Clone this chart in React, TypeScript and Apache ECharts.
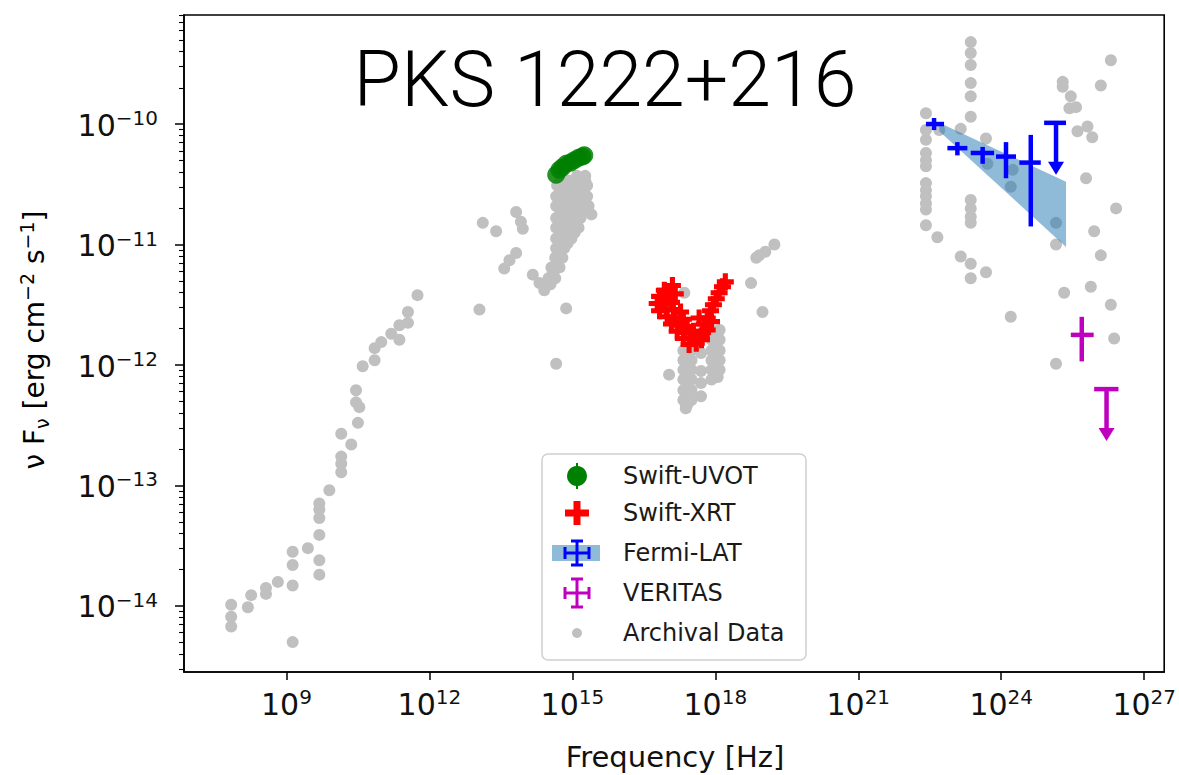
import React, { useEffect, useRef } from 'react';
import * as echarts from 'echarts';

// All values are log10(frequency / Hz) and log10(νFν / erg cm^-2 s^-1)
const archival: [number, number][] = [
  // radio
  [11.75, -11.42], [11.55, -11.56], [11.55, -11.65], [11.37, -11.67], [11.2, -11.74], [11.37, -11.79],
  [10.99, -11.81], [10.85, -11.86], [10.85, -11.96], [10.6, -12.01], [10.46, -12.21], [10.46, -12.31],
  [10.53, -12.35], [10.5, -12.48], [10.15, -12.57], [10.36, -12.66], [10.15, -12.76], [10.15, -12.82],
  [10.15, -12.89], [9.9, -13.04], [9.69, -13.15], [9.69, -13.2], [9.69, -13.27], [9.69, -13.41],
  [9.45, -13.52], [9.13, -13.55], [9.69, -13.62], [9.13, -13.66], [9.69, -13.74], [8.82, -13.8],
  [9.13, -13.83], [8.57, -13.85], [8.57, -13.9], [8.26, -13.91], [8.19, -14.01], [7.84, -13.99],
  [7.84, -14.09], [7.84, -14.17], [9.13, -14.3],
  // infrared
  [13.05, -11.54], [13.12, -10.82], [13.4, -10.89], [13.82, -10.73], [13.92, -10.81], [13.96, -10.87],
  [13.82, -11.07], [13.68, -11.13], [13.57, -11.2], [14.17, -11.25], [14.31, -11.32], [14.41, -11.38],
  [14.55, -11.27], [14.87, -11.53], [14.66, -11.99],
  // optical / UV
  [15.1, -10.43], [15.27, -10.43],
  [14.75, -10.47], [14.93, -10.47], [15.1, -10.47], [15.27, -10.47],
  [14.68, -10.51], [14.85, -10.51], [15.02, -10.51], [15.19, -10.51], [15.31, -10.51],
  [14.75, -10.55], [14.93, -10.55], [15.1, -10.55], [15.25, -10.55],
  [14.66, -10.6], [14.83, -10.6], [15.0, -10.6], [15.17, -10.6], [15.31, -10.6],
  [14.75, -10.64], [14.93, -10.64], [15.1, -10.64], [15.25, -10.64],
  [14.66, -10.68], [14.83, -10.68], [15.0, -10.68], [15.17, -10.68], [15.34, -10.68],
  [14.75, -10.72], [14.93, -10.72], [15.1, -10.72], [15.25, -10.72],
  [15.4, -10.75],
  [14.66, -10.78], [14.83, -10.78], [15.0, -10.78], [15.17, -10.78],
  [14.75, -10.82], [14.93, -10.82], [15.08, -10.82],
  [14.66, -10.86], [14.83, -10.86], [15.0, -10.86], [15.13, -10.86],
  [14.75, -10.9], [14.92, -10.9], [15.05, -10.9],
  [14.66, -10.95], [14.83, -10.95], [14.98, -10.95],
  [14.75, -10.99], [14.9, -10.99],
  [14.66, -11.03], [14.83, -11.03],
  [14.73, -11.07],
  [14.64, -11.11], [14.79, -11.11],
  [14.68, -11.15],
  [14.56, -11.19], [14.73, -11.19],
  [14.6, -11.23],
  [14.5, -11.28], [14.64, -11.28],
  [14.54, -11.33],
  // X-ray
  [17.35, -11.4],
  [17.33, -11.88], [17.5, -11.88], [17.33, -11.96], [17.5, -11.96], [17.33, -12.04], [17.5, -12.04],
  [17.33, -12.12], [17.5, -12.12], [17.33, -12.21], [17.5, -12.21], [17.33, -12.29], [17.5, -12.29],
  [17.38, -12.36],
  [17.41, -11.84], [17.41, -11.92], [17.41, -12.0], [17.41, -12.08], [17.41, -12.16], [17.41, -12.25],
  [17.41, -12.33],
  [17.92, -11.71], [18.09, -11.71], [17.92, -11.79], [18.09, -11.79], [17.92, -11.88], [18.09, -11.88],
  [17.92, -11.96], [18.09, -11.96], [17.92, -12.04], [18.09, -12.04], [17.92, -12.12],
  [18.0, -11.75], [18.0, -11.83], [18.0, -11.92], [18.0, -12.0], [18.0, -12.08],
  [17.7, -11.9], [17.7, -12.05], [17.7, -12.15],
  [17.03, -12.08], [17.38, -12.33], [17.7, -12.26], [18.05, -12.1],
  // hard X-ray
  [19.24, -11.0], [19.05, -11.06], [18.92, -11.09], [18.86, -11.11], [18.75, -11.32], [18.99, -11.56],
  // gamma-ray
  [23.36, -9.32], [23.36, -9.41], [23.36, -9.51], [23.36, -9.66], [23.36, -9.77], [23.36, -9.94],
  [23.36, -10.63], [23.36, -10.7], [23.36, -10.77], [23.36, -10.82],
  [23.15, -11.1], [23.36, -11.16], [23.36, -11.28], [23.68, -11.23], [24.2, -11.6],
  [22.42, -9.91], [22.42, -10.05], [22.42, -10.13], [22.42, -10.24], [22.42, -10.3], [22.42, -10.35],
  [22.42, -10.49], [22.42, -10.55], [22.42, -10.6], [22.42, -10.66], [22.42, -10.71], [22.42, -10.84],
  [22.66, -10.94], [23.15, -10.04], [23.68, -10.12], [23.71, -10.33], [24.24, -10.38], [24.2, -10.52],
  [22.7, -10.05],
  [25.29, -9.65], [25.29, -9.69], [25.46, -9.77], [25.57, -9.86], [25.43, -9.87], [25.81, -10.02],
  [25.6, -10.06], [25.91, -10.11], [26.3, -9.47], [26.09, -9.68], [25.78, -10.45], [26.41, -10.7],
  [25.15, -10.82], [25.15, -11.0], [25.95, -10.89], [26.09, -11.09], [25.32, -11.4], [25.88, -11.35],
  [26.3, -11.5], [26.37, -11.78], [25.15, -11.99],
];

const swiftUvot: [number, number][] = [
  [14.66, -10.42], [14.73, -10.38], [14.79, -10.36], [14.87, -10.33], [14.96, -10.32],
  [15.04, -10.3], [15.13, -10.28], [15.21, -10.27], [15.25, -10.26],
];

const swiftXrt: [number, number][] = [
  [17.1, -11.34], [16.93, -11.38], [16.83, -11.43], [16.99, -11.43], [17.16, -11.41], [16.78, -11.49],
  [16.93, -11.49], [17.08, -11.48], [16.83, -11.55], [16.97, -11.54], [17.12, -11.54], [17.27, -11.56],
  [16.99, -11.6], [17.16, -11.61], [17.33, -11.62], [17.08, -11.66], [17.25, -11.67], [17.41, -11.68],
  [17.2, -11.72], [17.37, -11.73], [17.54, -11.72], [17.33, -11.78], [17.48, -11.78], [17.62, -11.77],
  [17.45, -11.83], [17.6, -11.82], [17.73, -11.73], [17.77, -11.66], [17.66, -11.61], [17.83, -11.61],
  [17.9, -11.55], [17.96, -11.5], [18.02, -11.45], [18.08, -11.4], [18.15, -11.35], [18.21, -11.31],
  [17.71, -11.79], [17.83, -11.71], [17.92, -11.64],
];

// [logNu, logFlux, logNuLow, logNuHigh, logFluxLow, logFluxHigh, upperLimit]
const fermiLat: number[][] = [
  [22.59, -10.0, 22.42, 22.8, -10.05, -9.95, 0],
  [23.08, -10.2, 22.87, 23.29, -10.26, -10.15, 0],
  [23.61, -10.24, 23.36, 23.85, -10.33, -10.19, 0],
  [24.1, -10.27, 23.89, 24.31, -10.45, -10.15, 0],
  [24.62, -10.32, 24.38, 24.83, -10.85, -10.09, 0],
  [25.15, -9.99, 24.9, 25.36, -9.99, -9.99, 1],
];

const veritas: number[][] = [
  [25.69, -11.75, 25.46, 25.94, -11.97, -11.6, 0],
  [26.21, -12.2, 25.95, 26.46, -12.2, -12.2, 1],
];

// Fermi-LAT power-law confidence band
const fermiBandNu = [22.7, 25.36];
const fermiBandHigh = [-9.99, -10.48];
const fermiBandLow = [-10.06, -11.02];

const xTicks = [9, 12, 15, 18, 21, 24, 27];
const yTicks = [-14, -13, -12, -11, -10];

const X_MIN = 6.85;
const X_MAX = 27.42;
const Y_MIN = -14.548;
const Y_MAX = -9.095;
const UL_ARROW_DEX = 0.43;

const FONT = '"DejaVu Sans", Verdana, sans-serif';
const BLUE = '#0000ff';
const MAGENTA = '#bf00bf';
const GREEN = '#008000';
const RED = '#ff0000';
const SILVER = '#c0c0c0';
const BAND = 'rgba(31,119,180,0.5)';

const yMinorTicks: number[] = [];
for (let d = -15; d <= -10; d++) {
  for (let k = 2; k <= 9; k++) {
    const v = d + Math.log10(k);
    if (v > Y_MIN && v < Y_MAX) yMinorTicks.push(v);
  }
}

const expLabel = (v: number) => {
  const n = Math.round(v);
  return `{b|10}{s|${n < 0 ? '\u2212' : ''}${Math.abs(n)}}`;
};

const tickRich = {
  b: { fontSize: 30, fontFamily: FONT, color: '#111', lineHeight: 32, verticalAlign: 'bottom' },
  s: { fontSize: 20, fontFamily: FONT, color: '#111', lineHeight: 20, verticalAlign: 'top' },
};

const PLUS_SYMBOL = 'path://M7,0h6v7h7v6h-7v7h-6v-7h-7v-6h7z';

function errorBars(color: string) {
  return (params: any, api: any) => {
    const x = api.value(0);
    const y = api.value(1);
    const c = api.coord([x, y]);
    const l = api.coord([api.value(2), y]);
    const r = api.coord([api.value(3), y]);
    const style = { stroke: color, lineWidth: 4.5, fill: 'none' };
    const children: any[] = [
      { type: 'line', shape: { x1: l[0], y1: l[1], x2: r[0], y2: r[1] }, style },
    ];
    if (api.value(6) === 1) {
      const tip = api.coord([x, y - UL_ARROW_DEX]);
      children.push({ type: 'line', shape: { x1: c[0], y1: c[1], x2: tip[0], y2: tip[1] - 10 }, style });
      children.push({
        type: 'polygon',
        shape: { points: [[tip[0] - 8, tip[1] - 13], [tip[0] + 8, tip[1] - 13], [tip[0], tip[1]]] },
        style: { fill: color },
      });
    } else {
      const lo = api.coord([x, api.value(4)]);
      const hi = api.coord([x, api.value(5)]);
      children.push({ type: 'line', shape: { x1: lo[0], y1: lo[1], x2: hi[0], y2: hi[1] }, style });
    }
    return { type: 'group', children };
  };
}

function cappedCross(cx: number, cy: number, hw: number, hh: number, color: string) {
  const st = { stroke: color, lineWidth: 3 };
  const cap = 6;
  return [
    { type: 'line', shape: { x1: cx - hw, y1: cy, x2: cx + hw, y2: cy }, style: st },
    { type: 'line', shape: { x1: cx, y1: cy - hh, x2: cx, y2: cy + hh }, style: st },
    { type: 'line', shape: { x1: cx - hw, y1: cy - cap, x2: cx - hw, y2: cy + cap }, style: st },
    { type: 'line', shape: { x1: cx + hw, y1: cy - cap, x2: cx + hw, y2: cy + cap }, style: st },
    { type: 'line', shape: { x1: cx - cap, y1: cy - hh, x2: cx + cap, y2: cy - hh }, style: st },
    { type: 'line', shape: { x1: cx - cap, y1: cy + hh, x2: cx + cap, y2: cy + hh }, style: st },
  ];
}

function plusPoints(cx: number, cy: number, a: number, t: number) {
  return [
    [cx - t, cy - a], [cx + t, cy - a], [cx + t, cy - t], [cx + a, cy - t], [cx + a, cy + t],
    [cx + t, cy + t], [cx + t, cy + a], [cx - t, cy + a], [cx - t, cy + t], [cx - a, cy + t],
    [cx - a, cy - t], [cx - t, cy - t],
  ];
}

const legendEntries = ['Swift-UVOT', 'Swift-XRT', 'Fermi-LAT', 'VERITAS', 'Archival Data'];
const legendRows = [476, 513, 553, 593, 633];

function buildLegend() {
  const kx = 577;
  const children: any[] = [
    {
      type: 'rect',
      shape: { x: 542, y: 454, width: 264, height: 206, r: 6 },
      style: { fill: 'rgba(255,255,255,0.85)', stroke: '#d0d0d0', lineWidth: 1.5 },
    },
    { type: 'line', shape: { x1: kx, y1: legendRows[0] - 13, x2: kx, y2: legendRows[0] + 13 }, style: { stroke: GREEN, lineWidth: 2 } },
    { type: 'circle', shape: { cx: kx, cy: legendRows[0], r: 10 }, style: { fill: GREEN } },
    { type: 'polygon', shape: { points: plusPoints(kx, legendRows[1], 12, 3.5) }, style: { fill: RED } },
    { type: 'rect', shape: { x: 552, y: legendRows[2] - 8, width: 48, height: 16 }, style: { fill: BAND } },
    ...cappedCross(kx, legendRows[2], 12, 12, BLUE),
    ...cappedCross(kx, legendRows[3], 12, 14, MAGENTA),
    { type: 'circle', shape: { cx: kx, cy: legendRows[4], r: 5 }, style: { fill: SILVER } },
  ];
  legendEntries.forEach((name, i) => {
    children.push({
      type: 'text',
      x: 623,
      y: legendRows[i],
      style: {
        text: name, fontSize: 24, fontFamily: FONT, fill: '#1a1a1a',
        align: 'left', verticalAlign: 'middle', textAlign: 'left', textVerticalAlign: 'middle',
      },
    });
  });
  return { type: 'group', z: 100, children };
}

export default function App() {
  const ref = useRef<HTMLDivElement>(null);

  useEffect(() => {
    if (!ref.current) return;
    const chart = echarts.init(ref.current, undefined, { renderer: 'svg' });
    chart.setOption({
      animation: false,
      backgroundColor: '#ffffff',
      grid: { left: 184, right: 14, top: 15, bottom: 103, show: true, borderColor: '#000', borderWidth: 1.6 },
      xAxis: {
        type: 'value', min: X_MIN, max: X_MAX,
        splitLine: { show: false },
        axisLine: { lineStyle: { color: '#000', width: 1.6 } },
        axisTick: { customValues: xTicks, length: 8, lineStyle: { color: '#000', width: 1.5 } },
        axisLabel: { customValues: xTicks, margin: 15, formatter: expLabel, rich: tickRich },
      },
      yAxis: [
        {
          type: 'value', min: Y_MIN, max: Y_MAX,
          splitLine: { show: false },
          axisLine: { lineStyle: { color: '#000', width: 1.6 } },
          axisTick: { customValues: yTicks, length: 9, lineStyle: { color: '#000', width: 1.5 } },
          axisLabel: { customValues: yTicks, margin: 26, formatter: expLabel, rich: tickRich },
        },
        {
          type: 'value', min: Y_MIN, max: Y_MAX, position: 'left',
          splitLine: { show: false },
          axisLine: { show: false },
          axisTick: { customValues: yMinorTicks, length: 5, lineStyle: { color: '#000', width: 1.1 } },
          axisLabel: { show: false },
        },
      ],
      series: [
        {
          name: 'Archival Data', type: 'scatter', data: archival, symbolSize: 12,
          itemStyle: { color: SILVER, opacity: 1 }, z: 1,
        },
        {
          name: 'Fermi-LAT band', type: 'custom', z: 2,
          data: [[fermiBandNu[0], fermiBandHigh[0]]],
          encode: { x: 0, y: 1 },
          renderItem: (params: any, api: any) => {
            const upper = fermiBandNu.map((nu, i) => api.coord([nu, fermiBandHigh[i]]));
            const lower = fermiBandNu.map((nu, i) => api.coord([nu, fermiBandLow[i]])).reverse();
            return { type: 'polygon', shape: { points: [...upper, ...lower] }, style: { fill: BAND } };
          },
        },
        {
          name: 'Swift-UVOT', type: 'scatter', data: swiftUvot, symbolSize: 18,
          itemStyle: { color: GREEN, opacity: 0.85 }, z: 3,
        },
        {
          name: 'Swift-XRT', type: 'scatter', data: swiftXrt, symbol: PLUS_SYMBOL, symbolSize: 17,
          itemStyle: { color: RED, opacity: 1 }, z: 4,
        },
        {
          name: 'Fermi-LAT', type: 'custom', data: fermiLat, encode: { x: 0, y: 1 },
          renderItem: errorBars(BLUE), z: 5,
        },
        {
          name: 'VERITAS', type: 'custom', data: veritas, encode: { x: 0, y: 1 },
          renderItem: errorBars(MAGENTA), z: 5,
        },
      ],
      graphic: [
        {
          type: 'text', x: 605, y: 80, z: 50,
          style: {
            text: 'PKS 1222+216', fontSize: 77, fontWeight: 300, fontFamily: 'Roboto, "Open Sans", sans-serif',
            fill: '#000', align: 'center', verticalAlign: 'middle', textAlign: 'center', textVerticalAlign: 'middle',
          },
        },
        {
          type: 'text', x: 675, y: 757, z: 50,
          style: {
            text: 'Frequency [Hz]', fontSize: 29, fontFamily: FONT, fill: '#111',
            align: 'center', verticalAlign: 'middle', textAlign: 'center', textVerticalAlign: 'middle',
          },
        },
        {
          type: 'text', x: 34, y: 340, rotation: Math.PI / 2, z: 50,
          style: {
            text: '{n|\u03bd F}{sb|\u03bd}{n| [erg cm}{sp|\u22122}{n| s}{sp|\u22121}{n|]}',
            align: 'center', verticalAlign: 'middle', textAlign: 'center', textVerticalAlign: 'middle',
            rich: {
              n: { fontSize: 28, fontFamily: FONT, color: '#111', lineHeight: 34, verticalAlign: 'middle' },
              sb: { fontSize: 19, fontFamily: FONT, color: '#111', lineHeight: 19, verticalAlign: 'bottom' },
              sp: { fontSize: 19, fontFamily: FONT, color: '#111', lineHeight: 19, verticalAlign: 'top' },
            },
          },
        },
        buildLegend(),
      ],
    });
    return () => chart.dispose();
  }, []);

  return (
    <div
      ref={ref}
      style={{ position: 'fixed', left: 0, top: 0, width: 1179, height: 775, background: '#fff' }}
    />
  );
}
